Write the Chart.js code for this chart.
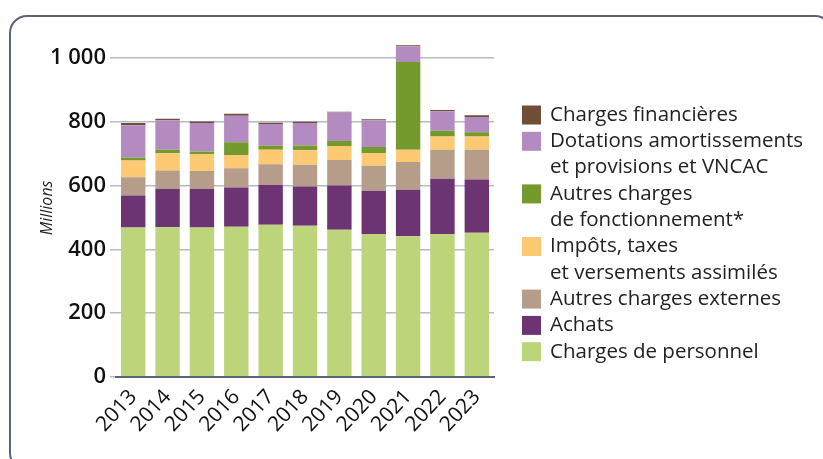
<!DOCTYPE html>
<html><head><meta charset="utf-8">
<script src="https://cdn.jsdelivr.net/npm/chart.js@4/dist/chart.umd.min.js"></script>
<style>
html,body{margin:0;padding:0;background:#fff;overflow:hidden;}
#wrap{position:absolute;left:0;top:0;width:823px;height:459px;}
#frame{position:absolute;left:9px;top:15px;width:820px;height:452px;border:2px solid #5b6374;border-radius:18px;pointer-events:none;}
</style></head>
<body>
<div id="wrap"><canvas id="c" width="823" height="459"></canvas></div>
<div id="frame"></div>
<script>
const years = ['2013','2014','2015','2016','2017','2018','2019','2020','2021','2022','2023'];
const chargesPersonnel = [468,469,468,471,477,474,461,448,441,448,452];
const achats = [101,120,121,123,125,123,139,136,146,173,167];
const autresChargesExternes = [57,58,57,60,65,68,80,78,87,91,93];
const impotsTaxes = [53,54,52,42,45,46,44,40,38,42,42];
const autresChargesFonct = [8,11,9,40,13,15,16,19,276,18,13];
const dotations = [102,93,89,83,68,70,89,84,49,61,48];
const chargesFinancieres = [7,5,5,6,4,4,3,3,3,4,6];
const yTicks = [0,200,400,600,800,1000];
const yTitle = 'Millions';

const series = [
  {label:'Charges de personnel', lines:['Charges de personnel'], data:chargesPersonnel, color:'#bdd47a'},
  {label:'Achats', lines:['Achats'], data:achats, color:'#6d3473'},
  {label:'Autres charges externes', lines:['Autres charges externes'], data:autresChargesExternes, color:'#b69d8a'},
  {label:'Impôts, taxes et versements assimilés', lines:['Impôts, taxes','et versements assimilés'], data:impotsTaxes, color:'#fdc973'},
  {label:'Autres charges de fonctionnement*', lines:['Autres charges','de fonctionnement*'], data:autresChargesFonct, color:'#74992d'},
  {label:'Dotations amortissements et provisions et VNCAC', lines:['Dotations amortissements','et provisions et VNCAC'], data:dotations, color:'#b38bc1'},
  {label:'Charges financières', lines:['Charges financières'], data:chargesFinancieres, color:'#6f4f38'}
];

const FONT = '"Open Sans", "Noto Sans", sans-serif';

const legendPlugin = {
  id:'customLegend',
  afterDraw(chart){
    const ctx = chart.ctx;
    ctx.save();
    ctx.font = '20.5px ' + FONT;
    ctx.textBaseline = 'middle';
    let y = 115;
    const lineH = 26.3;
    for (let i = series.length - 1; i >= 0; i--) {
      const s = series[i];
      ctx.fillStyle = s.color;
      ctx.fillRect(522, y - 9.5, 19, 19);
      ctx.fillStyle = '#222';
      s.lines.forEach((ln, k) => {
        ctx.fillText(ln, 550, y + k * lineH);
      });
      y += s.lines.length * lineH;
    }
    // y axis title
    const a = chart.chartArea;
    ctx.translate(47, (a.top + a.bottom) / 2);
    ctx.rotate(-Math.PI / 2);
    ctx.font = 'italic 16px ' + FONT;
    ctx.textAlign = 'center';
    ctx.fillStyle = '#222';
    ctx.fillText(yTitle, 0, 0);
    ctx.restore();
  }
};

new Chart(document.getElementById('c'), {
  type:'bar',
  data:{
    labels:years,
    datasets:series.map(s => ({label:s.label, data:s.data, backgroundColor:s.color, borderWidth:0,
      categoryPercentage:1, barPercentage:0.71}))
  },
  options:{
    responsive:false,
    animation:false,
    devicePixelRatio:1,
    layout:{padding:{left:46, right:329, top:39, bottom:22}},
    plugins:{legend:{display:false}, tooltip:{enabled:false}},
    scales:{
      x:{
        stacked:true,
        grid:{display:false},
        border:{display:true, color:'#5b6374', width:2},
        ticks:{color:'#111', autoSkip:false, font:{family:FONT, size:21, weight:'normal'}, minRotation:47, maxRotation:47, padding:0}
      },
      y:{
        stacked:true,
        min:0, max:1060,
        afterBuildTicks(axis){ axis.ticks = yTicks.map(v => ({value:v})); },
        grid:{color:'#b3b9c6', lineWidth:1.5, tickLength:6, drawTicks:true},
        border:{display:false},
        ticks:{color:'#111', font:{family:FONT, size:22, weight:'600'}, padding:4,
          callback:(v) => v >= 1000 ? String(v).replace(/(\d)(\d{3})$/, '$1 $2') : String(v)}
      }
    }
  },
  plugins:[legendPlugin]
});
</script>
</body></html>
